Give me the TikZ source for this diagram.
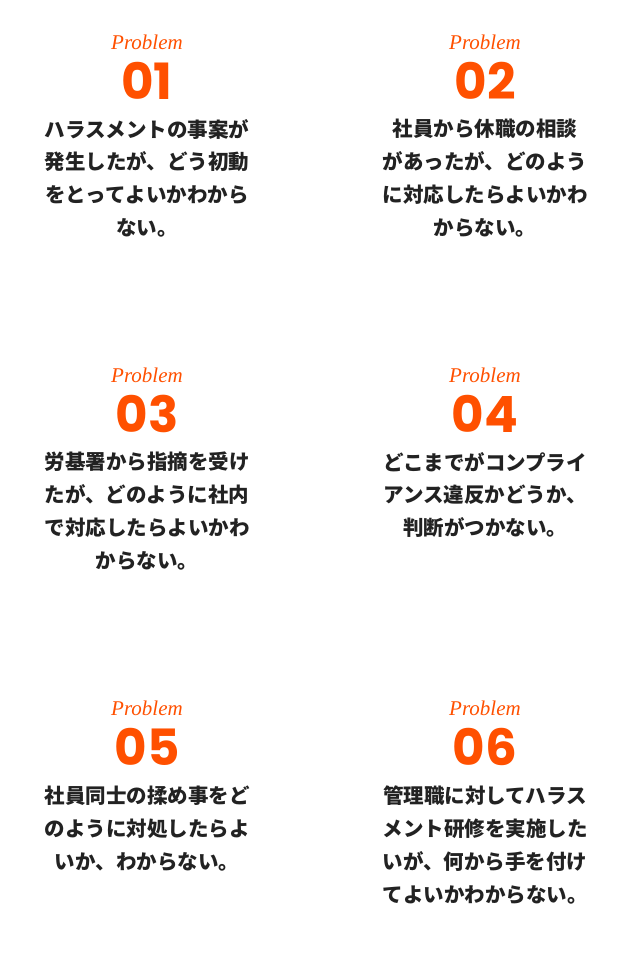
\documentclass[tikz,border=0pt]{standalone}
\usepackage{fontspec}
\setmainfont{Noto Sans CJK JP}
\newfontfamily\numfont{Poppins}
\newfontfamily\scriptf{Liberation Serif}
\definecolor{org}{HTML}{FF5000}
\definecolor{txt}{HTML}{222222}
\begin{document}
\begin{tikzpicture}[x=1pt,y=-1pt,
  prob/.style={text=org,font=\scriptf\itshape\fontsize{21}{21}\selectfont},
  num/.style={text=org,font=\numfont\bfseries\fontsize{50}{50}\selectfont},
  body/.style={text=txt,anchor=north,align=center,inner sep=0pt,font=\bfseries\fontsize{20.5}{32.8}\selectfont}]
\useasboundingbox (0,0) rectangle (630,961);
\foreach \n/\x/\y in {01/147/0,02/485/0,03/147/333,04/485/333,05/147/666,06/485/666}{
  \node[prob] (p\n) at (\x,42+\y) {Problem};
  \node[num] (n\n) at (\x,81+\y) {\n};
}
\node[body] (t1) at (147,119) {ハラスメントの事案が\\発生したが、どう初動\\をとってよいかわから\\ない。};
\node[body] (t2) at (485,119) {社員から休職の相談\\があったが、どのよう\\に対応したらよいかわ\\からない。};
\node[body] (t3) at (147,452) {労基署から指摘を受け\\たが、どのように社内\\で対応したらよいかわ\\からない。};
\node[body] (t4) at (485,452) {どこまでがコンプライ\\アンス違反かどうか、\\判断がつかない。};
\node[body] (t5) at (147,786) {社員同士の揉め事をど\\のように対処したらよ\\いか、わからない。};
\node[body] (t6) at (485,786) {管理職に対してハラス\\メント研修を実施した\\いが、何から手を付け\\てよいかわからない。};
\end{tikzpicture}
\end{document}
